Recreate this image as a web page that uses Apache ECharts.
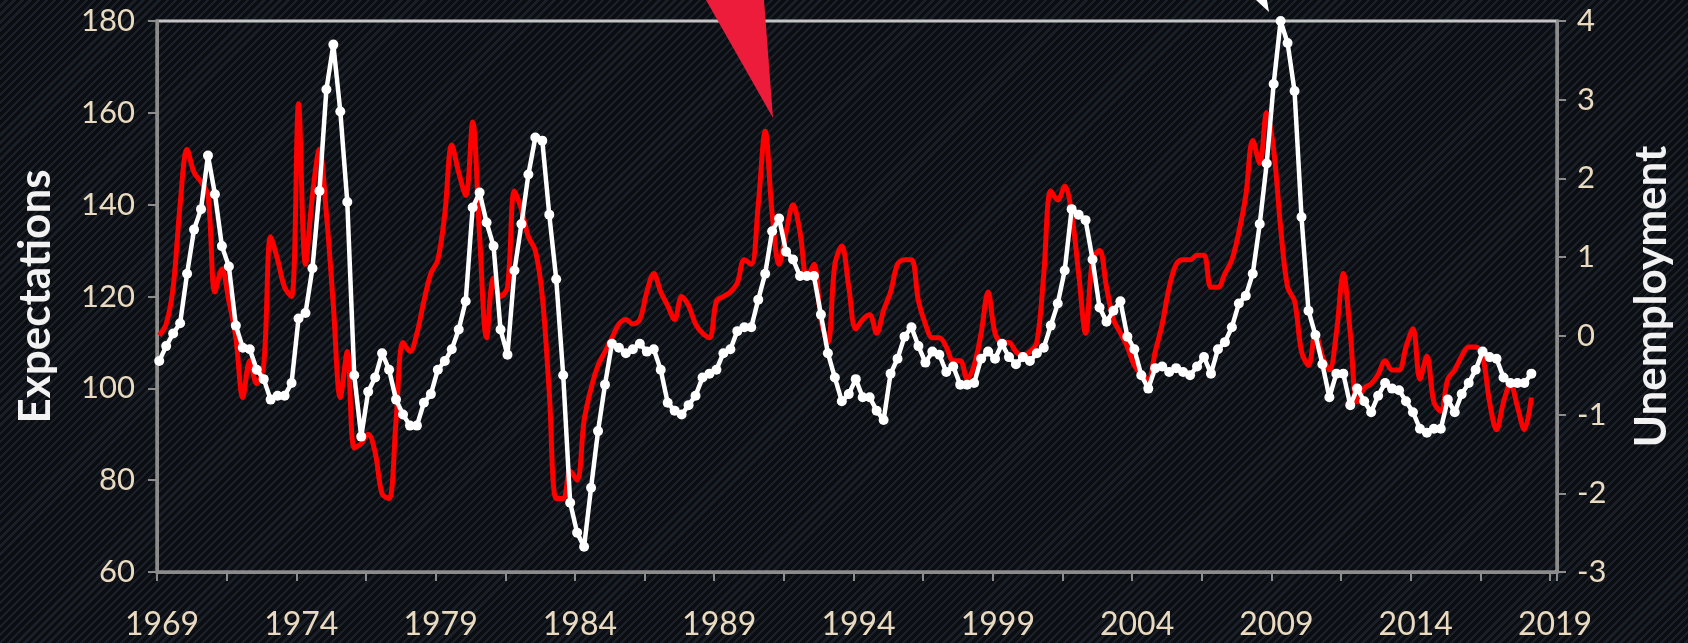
<!DOCTYPE html>
<html lang="en">
  <head>
    <meta charset="UTF-8" />
    <title>Expectations vs Unemployment</title>
    <script src="https://cdn.jsdelivr.net/npm/echarts/dist/echarts.min.js"></script>
    <style>
      html,
      body {
        width: 100%;
        height: 100%;
        margin: 0;
        padding: 0;
      }
      body {
        background-color: #0b0d10;
        background-image: repeating-linear-gradient(
          135deg,
          #0b0d10 0px,
          #0b0d10 3.4px,
          #19202a 3.4px,
          #19202a 5.7px
        );
      }
      #main {
        width: 1688px;
        height: 643px;
      }
    </style>
  </head>
  <body>
    <div id="main"></div>
    <script type="text/javascript">
      // quarterly readings, first point just after Jan 1969
      var firstYear = 1969;
      var firstOffset = 0.08;
      var step = 0.25;

      // red line, left axis
      var expectations = [
        111.5, 114, 122, 140, 152, 147, 145, 142, 121, 126, 119, 111, 98, 106, 101, 105,
        133, 128, 122, 120, 162, 127, 142, 152, 138, 118, 98, 108, 87, 88, 90, 86,
        77, 76, 93, 110, 108, 112, 119, 125, 128, 138, 153, 147, 142, 158, 133, 111,
        124, 120, 122, 143, 139, 133, 130, 120, 99, 76, 76, 82, 80, 93, 100, 105,
        108, 111, 114, 115, 114, 115, 121, 125, 121, 118, 115, 120, 118, 114, 112, 111,
        119, 120, 121, 123, 128, 127, 140, 156, 138, 127, 134, 140, 134, 124, 127, 115,
        110, 127, 131, 122, 113, 115, 116, 112, 117, 121, 127, 128, 128, 119, 114, 111,
        111, 109, 106, 106, 102, 105, 112, 121, 112, 110, 110, 108, 107, 108, 110, 125,
        143, 141, 144, 138, 125, 112, 128, 130, 122, 115, 112, 109, 105, 103, 102, 108,
        114, 122, 127, 128, 128, 129, 129, 122, 122, 125, 128, 134, 142, 154, 149, 160,
        152, 135, 122, 119, 108, 105, 112, 107, 104, 112, 125, 112, 97, 100, 101, 103,
        106, 104, 104, 109, 113, 102, 107, 97, 95, 102, 104, 107, 109, 109, 107, 97,
        91, 97, 101, 96, 91, 98
      ];

      // white line with dots, right axis
      var unemployment = [
        -0.32, -0.13, 0.03, 0.16, 0.79, 1.35, 1.61, 2.29, 1.8, 1.14, 0.88, 0.13, -0.15, -0.17, -0.43, -0.55,
        -0.81, -0.76, -0.76, -0.6, 0.22, 0.29, 0.86, 1.84, 3.13, 3.7, 2.85, 1.7, -0.5, -1.28, -0.71, -0.53,
        -0.22, -0.43, -0.81, -1.0, -1.14, -1.14, -0.85, -0.74, -0.43, -0.32, -0.17, 0.08, 0.44, 1.63, 1.82, 1.44,
        1.14, 0.08, -0.24, 0.83, 1.42, 2.05, 2.52, 2.48, 1.54, 0.72, -0.5, -2.12, -2.5, -2.68, -1.93, -1.21,
        -0.62, -0.1, -0.15, -0.22, -0.17, -0.1, -0.2, -0.17, -0.43, -0.85, -0.95, -1.0, -0.88, -0.76, -0.53, -0.48,
        -0.43, -0.22, -0.17, 0.06, 0.11, 0.11, 0.46, 0.79, 1.33, 1.49, 1.07, 0.97, 0.76, 0.76, 0.76, 0.27,
        -0.22, -0.53, -0.83, -0.74, -0.55, -0.78, -0.78, -0.95, -1.07, -0.48, -0.29, -0.01, 0.11, -0.13, -0.34, -0.2,
        -0.24, -0.46, -0.39, -0.62, -0.62, -0.6, -0.29, -0.2, -0.29, -0.1, -0.27, -0.36, -0.27, -0.32, -0.22, -0.15,
        0.13, 0.41, 0.83, 1.61, 1.54, 1.47, 0.97, 0.36, 0.18, 0.32, 0.44, -0.01, -0.17, -0.5, -0.67, -0.41,
        -0.39, -0.46, -0.41, -0.46, -0.5, -0.39, -0.27, -0.48, -0.17, -0.08, 0.11, 0.41, 0.51, 0.79, 1.42, 2.19,
        3.2, 4.0, 3.72, 3.11, 1.51, 0.32, 0.01, -0.36, -0.78, -0.48, -0.48, -0.88, -0.67, -0.83, -0.97, -0.76,
        -0.6, -0.67, -0.69, -0.83, -0.97, -1.18, -1.23, -1.18, -1.18, -0.81, -0.97, -0.74, -0.6, -0.43, -0.2, -0.27,
        -0.29, -0.53, -0.6, -0.6, -0.6, -0.48
      ];

      var labelColor = "#eadbc0";
      var axisGrey = "#8c8c8c";

      function toPairs(arr) {
        return arr.map(function (v, i) {
          return [firstOffset + i * step, v];
        });
      }

      var myChart = echarts.init(document.getElementById("main"));
      var option = {
        backgroundColor: "transparent",
        animation: false,
        grid: {
          left: 157,
          right: 131,
          top: 21,
          bottom: 71,
          outerBoundsMode: "none",
          show: true,
          backgroundColor: "transparent",
          borderColor: "#c4c4c4",
          borderWidth: 3,
        },
        xAxis: {
          type: "value",
          min: 0,
          max: 50.25,
          interval: 2.5,
          axisLine: { show: true, onZero: false, lineStyle: { color: axisGrey, width: 3 } },
          axisTick: { show: true, length: 9, lineStyle: { color: axisGrey, width: 2 } },
          splitLine: { show: false },
          axisLabel: {
            color: labelColor,
            fontFamily: "Lato",
            fontSize: 32,
            margin: 37,
            padding: [0, 0, 0, 10],
            formatter: function (v) {
              return v % 5 === 0 ? String(firstYear + v) : "";
            },
          },
        },
        yAxis: [
          {
            type: "value",
            min: 60,
            max: 180,
            interval: 20,
            name: "Expectations",
            nameLocation: "middle",
            nameRotate: 90,
            nameGap: 99,
            nameTextStyle: { color: "#f2f2f2", fontFamily: "Lato", fontWeight: "bold", fontSize: 44 },
            axisLine: { show: true, lineStyle: { color: axisGrey, width: 3 } },
            axisTick: { show: true, length: 9, lineStyle: { color: axisGrey, width: 2 } },
            splitLine: { show: false },
            axisLabel: { color: labelColor, fontFamily: "Lato", fontSize: 31, margin: 22 },
          },
          {
            type: "value",
            min: -3,
            max: 4,
            interval: 1,
            position: "right",
            name: "Unemployment",
            nameLocation: "middle",
            nameRotate: 90,
            nameGap: 73,
            nameTextStyle: { color: "#f2f2f2", fontFamily: "Lato", fontWeight: "bold", fontSize: 44 },
            axisLine: { show: true, lineStyle: { color: axisGrey, width: 3 } },
            axisTick: { show: true, length: 9, lineStyle: { color: axisGrey, width: 2 } },
            splitLine: { show: false },
            axisLabel: { color: labelColor, fontFamily: "Lato", fontSize: 31, margin: 20 },
          },
        ],
        series: [
          {
            name: "Expectations",
            type: "line",
            yAxisIndex: 0,
            data: toPairs(expectations),
            smooth: 0.35,
            showSymbol: false,
            lineStyle: { color: "#ff0000", width: 5 },
            z: 2,
          },
          {
            name: "Unemployment",
            type: "line",
            yAxisIndex: 1,
            data: toPairs(unemployment),
            symbol: "circle",
            symbolSize: 10,
            itemStyle: { color: "#ffffff" },
            lineStyle: { color: "#ffffff", width: 4.5 },
            z: 3,
          },
        ],
        // callout pointers coming in from above the frame
        graphic: [
          {
            type: "polygon",
            z: 10,
            shape: { points: [[706, 0], [764, 0], [773, 118]] },
            style: { fill: "#ee1c3b" },
          },
          {
            type: "polygon",
            z: 10,
            shape: { points: [[1256, 0], [1267, 0], [1269, 12]] },
            style: { fill: "#ffffff" },
          },
        ],
      };
      myChart.setOption(option);
    </script>
  </body>
</html>
